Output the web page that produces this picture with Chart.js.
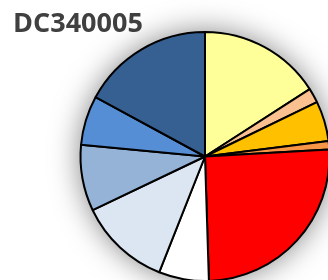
<!DOCTYPE html>
<html>
<head>
<meta charset="utf-8">
<script src="https://cdn.jsdelivr.net/npm/chart.js@4"></script>
<style>
  html, body { margin: 0; padding: 0; background: #fff; overflow: hidden; width: 328px; height: 280px; }
  #grafica { position: absolute; left: 13px; top: 0; }
</style>
</head>
<body>
<canvas id="grafica" width="384" height="282"></canvas>
<script>
// valores (porcentaje de cada sector, sentido horario desde arriba)
const categorias = ['1', '2', '3', '4', '5', '6', '7', '8', '9', '10'];
const valores = [15.9, 1.9, 5.2, 1.1, 25.4, 6.5, 11.9, 8.6, 6.4, 17.1];
const colores = ['#FFFF99', '#FAC090', '#FFC000', '#F79646', '#FF0000',
                 '#FFFFFF', '#DCE6F2', '#95B3D7', '#558ED5', '#376092'];
const titulo = 'DC340005';

// sombra difusa alrededor del pastel
const sombra = {
  id: 'sombra',
  beforeDatasetsDraw(chart) {
    const arc = chart.getDatasetMeta(0).data[0];
    if (!arc) return;
    const ctx = chart.ctx;
    ctx.save();
    ctx.shadowColor = 'rgba(0,0,0,0.5)';
    ctx.shadowBlur = 30;
    ctx.fillStyle = '#fff';
    ctx.beginPath();
    ctx.arc(arc.x, arc.y, arc.outerRadius, 0, Math.PI * 2);
    ctx.fill();
    ctx.restore();
  }
};

function dibujar() {
  const ctx = document.getElementById('grafica').getContext('2d');
  const myChart = new Chart(ctx, {
    type: 'pie',
    data: {
      labels: categorias,
      datasets: [{
        data: valores,
        backgroundColor: colores,
        borderColor: '#000',
        borderWidth: 2
      }]
    },
    options: {
      responsive: false,
      animation: false,
      layout: { padding: 0 },
      plugins: {
        legend: { display: false },
        tooltip: { enabled: false },
        title: {
          display: true,
          text: titulo,
          align: 'start',
          color: '#404040',
          font: { family: 'Open Sans', weight: 'bold', size: 27, lineHeight: 14 / 27 },
          padding: { top: 17, bottom: 0 }
        }
      }
    },
    plugins: [sombra]
  });
}

document.fonts.load('bold 27px "Open Sans"').then(dibujar, dibujar);
</script>
</body>
</html>
